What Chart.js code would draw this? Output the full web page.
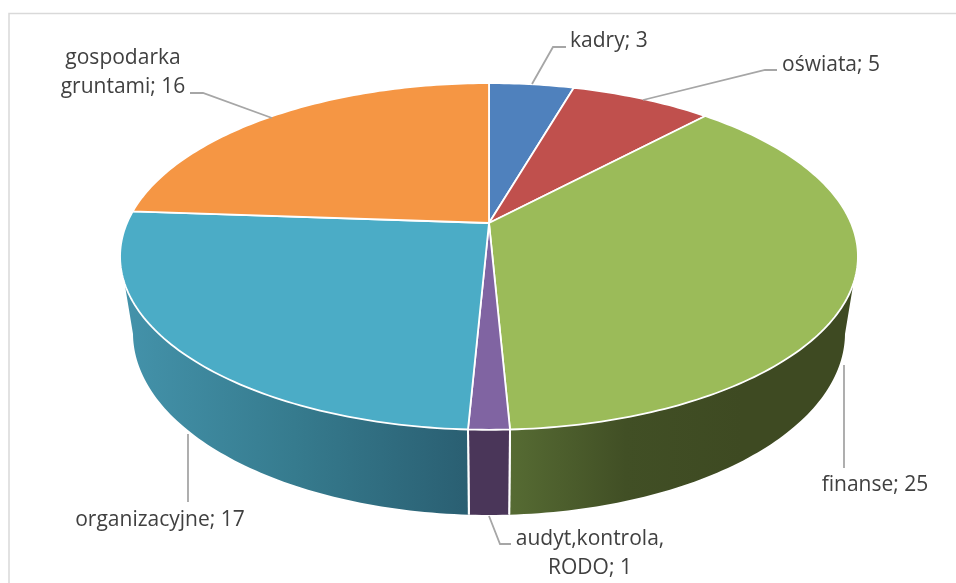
<!DOCTYPE html>
<html lang="pl">
<head>
<meta charset="utf-8">
<style>
html,body{margin:0;padding:0;background:#fff;}
canvas{display:block;}
</style>
<script src="https://cdn.jsdelivr.net/npm/chart.js@4"></script>
</head>
<body>
<canvas id="c" width="956" height="583"></canvas>
<script>
const categories = ['kadry', 'oświata', 'finanse', 'audyt,kontrola, RODO', 'organizacyjne', 'gospodarka gruntami'];
const values = [3, 5, 25, 1, 17, 16];
const topColors = ['#4f81bd', '#c0504d', '#9bbb59', '#8064a2', '#4bacc6', '#f59644'];
const wallStops = [
  ['#3b608e', '#3b608e'],
  ['#903c3a', '#903c3a'],
  ['#566b33', '#414f25', '#3e4a22', '#3e4a22'],
  ['#4a3659', '#4a3659'],
  ['#4493ab', '#367b8e', '#2a5f72'],
  ['#b9712f', '#b9712f']
];
const labelLines = [
  ['kadry; 3'],
  ['oświata; 5'],
  ['finanse; 25'],
  ['audyt,kontrola,', 'RODO; 1'],
  ['organizacyjne; 17'],
  ['gospodarka', 'gruntami; 16']
];

/* layout of the callouts (not data) */
const calloutStyle = [
  {x: 570, y: 41, align: 'left',   path: [[566,47],[553,47],[532,84]]},
  {x: 782, y: 65, align: 'left',   path: [[777,70],[765,70],[643,100]]},
  {x: 875, y: 485, align: 'center', path: [[844,365],[844,468]]},
  {x: 590, y: 539, align: 'center', path: [[489,516],[500,544],[511,544]]},
  {x: 160, y: 520, align: 'center', path: [[188,434],[188,502]]},
  {x: 123, y: 58, align: 'center', path: [[190,93],[203,93],[272,118]]}
];
const labelFont = '21px "Open Sans", sans-serif';
const lineGap = 29;

/* projection of the pie disc into the tilted view */
const TILT = {b: -0.193, a: 0.461, d: 0.035, c: 0.218};
function rim(el, angle, lower) {
  const t = angle + Math.PI / 2;
  const u = Math.sin(t), v = -Math.cos(t);
  const w = 1 + TILT.b * v + (lower ? TILT.d : 0);
  const R = el.outerRadius;
  return {
    x: el.x + R * u / w,
    y: el.y + R * (TILT.a * v + (lower ? TILT.c : 0)) / w
  };
}
const WALL_FROM = 101 * Math.PI / 180 - Math.PI / 2;
const WALL_TO = 259 * Math.PI / 180 - Math.PI / 2;
const STEP = Math.PI / 180;

function trace(ctx, el, a0, a1, lower, first) {
  const n = Math.max(2, Math.ceil(Math.abs(a1 - a0) / STEP));
  for (let i = 0; i <= n; i++) {
    const p = rim(el, a0 + (a1 - a0) * i / n, lower);
    if (i === 0 && first) ctx.moveTo(p.x, p.y); else ctx.lineTo(p.x, p.y);
  }
}

Chart.ArcElement.prototype.draw = function (ctx) {
  const idx = this.$context.dataIndex;
  const a0 = this.startAngle, a1 = this.endAngle;
  ctx.save();
  const w0 = Math.max(a0, WALL_FROM), w1 = Math.min(a1, WALL_TO);
  if (w1 > w0) {
    const pa = rim(this, w0, false), pb = rim(this, w1, false);
    const g = ctx.createLinearGradient(Math.min(pa.x, pb.x), 0, Math.max(pa.x, pb.x), 0);
    const stops = wallStops[idx];
    stops.forEach((s, i) => g.addColorStop(i / (stops.length - 1), s));
    ctx.beginPath();
    trace(ctx, this, w0, w1, false, true);
    trace(ctx, this, w1, w0, true, false);
    ctx.closePath();
    ctx.fillStyle = g;
    ctx.fill();
    ctx.strokeStyle = '#ffffff';
    ctx.lineWidth = 2;
    [a0, a1].forEach(a => {
      if (a > WALL_FROM && a < WALL_TO) {
        const p = rim(this, a, false), q = rim(this, a, true);
        ctx.beginPath(); ctx.moveTo(p.x, p.y); ctx.lineTo(q.x, q.y); ctx.stroke();
      }
    });
  }
  ctx.beginPath();
  ctx.moveTo(this.x, this.y);
  trace(ctx, this, a0, a1, false, false);
  ctx.closePath();
  ctx.fillStyle = this.options.backgroundColor;
  ctx.fill();
  ctx.strokeStyle = '#ffffff';
  ctx.lineWidth = 1.8;
  ctx.lineJoin = 'round';
  ctx.stroke();
  ctx.restore();
};

const frame = {
  id: 'frame',
  beforeDraw(chart) {
    const ctx = chart.ctx;
    ctx.save();
    ctx.fillStyle = '#ffffff';
    ctx.fillRect(0, 0, chart.width, chart.height);
    ctx.strokeStyle = '#d9d9d9';
    ctx.lineWidth = 1.5;
    ctx.beginPath();
    ctx.moveTo(9, chart.height);
    ctx.lineTo(9, 13.5);
    ctx.lineTo(chart.width, 13.5);
    ctx.stroke();
    ctx.restore();
  }
};

const callouts = {
  id: 'callouts',
  afterDatasetsDraw(chart) {
    const ctx = chart.ctx;
    ctx.save();
    calloutStyle.forEach((s, i) => {
      ctx.strokeStyle = '#a6a6a6';
      ctx.lineWidth = 1.8;
      ctx.beginPath();
      s.path.forEach((p, k) => k ? ctx.lineTo(p[0], p[1]) : ctx.moveTo(p[0], p[1]));
      ctx.stroke();
      ctx.fillStyle = '#404040';
      ctx.font = labelFont;
      ctx.textAlign = s.align;
      ctx.textBaseline = 'middle';
      labelLines[i].forEach((line, k) => ctx.fillText(line, s.x, s.y + k * lineGap));
    });
    ctx.restore();
  }
};

new Chart(document.getElementById('c'), {
  type: 'pie',
  data: {
    labels: categories,
    datasets: [{data: values, backgroundColor: topColors, borderColor: '#ffffff', borderWidth: 0}]
  },
  options: {
    responsive: false,
    animation: false,
    events: [],
    radius: 362,
    layout: {padding: {left: 22, right: 0, top: 0, bottom: 137}},
    plugins: {legend: {display: false}, tooltip: {enabled: false}, title: {display: false}}
  },
  plugins: [frame, callouts]
});
</script>
</body>
</html>
